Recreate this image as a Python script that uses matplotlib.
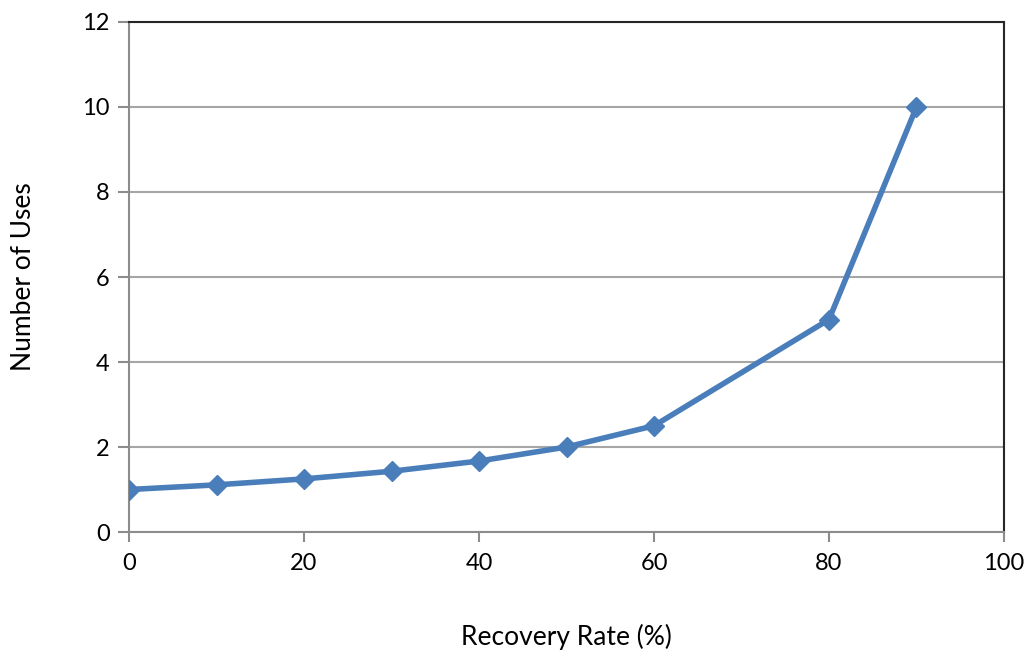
import matplotlib.pyplot as plt

recovery = [0, 10, 20, 30, 40, 50, 60, 80, 90]
uses = [1.0, 1.11, 1.25, 1.43, 1.67, 2.0, 2.5, 5.0, 10.0]
x_ticks = [0, 20, 40, 60, 80, 100]
y_ticks = [0, 2, 4, 6, 8, 10, 12]

plt.rcParams['font.family'] = ['Lato', 'DejaVu Sans']

fig = plt.figure(figsize=(10.25, 6.52), dpi=100)
ax = fig.add_axes([0.1259, 0.184, 0.8536, 0.7823])

ax.plot(recovery, uses, color='#4a7ebb', lw=4, marker='D', ms=10,
        markeredgecolor='#4a7ebb', zorder=3)

ax.set_xlim(0, 100)
ax.set_ylim(0, 12)
ax.set_xticks(x_ticks)
ax.set_yticks(y_ticks)
ax.grid(axis='y', color='#a6a6a6', lw=1.5)
ax.set_axisbelow(True)

for s in ['left', 'bottom']:
    ax.spines[s].set_color('#8c8c8c')
    ax.spines[s].set_linewidth(1.5)
for s in ['top', 'right']:
    ax.spines[s].set_color('#262626')
    ax.spines[s].set_linewidth(1.5)

ax.tick_params(axis='y', length=8, width=1.5, color='#8c8c8c', labelsize=17, pad=6)
ax.tick_params(axis='x', length=7, width=1.5, color='#8c8c8c', labelsize=17, pad=8)

ax.set_xlabel('Recovery Rate (%)', fontsize=19, labelpad=36)
ax.set_ylabel('Number of Uses', fontsize=19, labelpad=33)

fig.savefig('out.png', dpi=100)
